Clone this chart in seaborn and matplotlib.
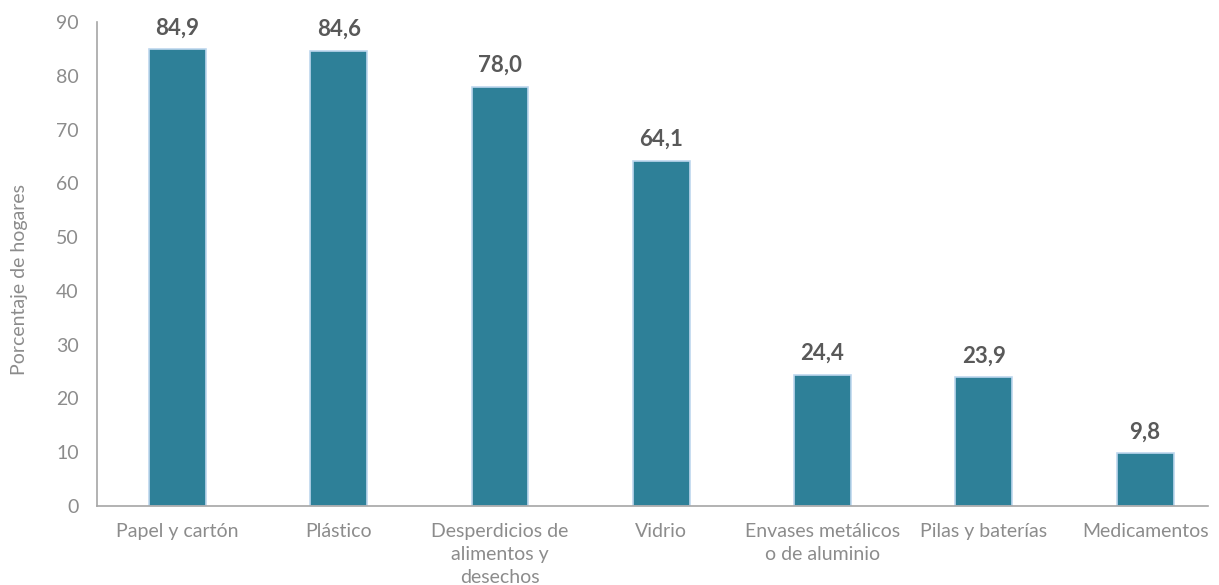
import matplotlib
matplotlib.use("Agg")
import matplotlib.pyplot as plt
import seaborn as sns
import pandas as pd

categories = ["Papel y cartón", "Plástico", "Desperdicios de\nalimentos y\ndesechos",
              "Vidrio", "Envases metálicos\no de aluminio", "Pilas y baterías", "Medicamentos"]
values = [84.9, 84.6, 78.0, 64.1, 24.4, 23.9, 9.8]
y_ticks = [0, 10, 20, 30, 40, 50, 60, 70, 80, 90]

sns.set_theme(style="white")
plt.rcParams["font.family"] = ["Lato", "DejaVu Sans"]

df = pd.DataFrame({"categoria": categories, "porcentaje": values})

fig = plt.figure(figsize=(12.19, 5.85), dpi=100)
ax = fig.add_axes([0.0794, 0.135, 0.9116, 0.8274])

sns.barplot(data=df, x="categoria", y="porcentaje", color="#2E8098",
            saturation=1, width=0.353, edgecolor="#BDD7EE", linewidth=1.2, ax=ax)

for patch, v in zip(ax.patches, values):
    ax.annotate(f"{v:.1f}".replace(".", ","),
                (patch.get_x() + patch.get_width() / 2, patch.get_height()),
                xytext=(0, 8), textcoords="offset points", ha="center", va="bottom",
                fontsize=16, fontweight="bold", color="#595959")

label_color = "#8C8C8C"
ax.set_ylim(0, 90)
ax.set_xlim(-0.5, 6.39)
ax.set_yticks(y_ticks)
ax.set_yticklabels([str(t) for t in y_ticks], fontsize=14, color=label_color)
ax.set_xticks(range(len(categories)))
ax.set_xticklabels(categories, fontsize=14, color=label_color, linespacing=1.45)
ax.tick_params(axis="x", length=0, pad=12)
ax.tick_params(axis="y", length=0, pad=13)

ax.set_xlabel("")
ax.set_ylabel("Porcentaje de hogares", fontsize=14, color=label_color)
ax.yaxis.set_label_coords(-0.062, 0.467)

for side in ["top", "right"]:
    ax.spines[side].set_visible(False)
for side in ["left", "bottom"]:
    ax.spines[side].set_color("#A6A6A6")
    ax.spines[side].set_linewidth(1.2)

fig.savefig("out.png", dpi=100, facecolor="white")
